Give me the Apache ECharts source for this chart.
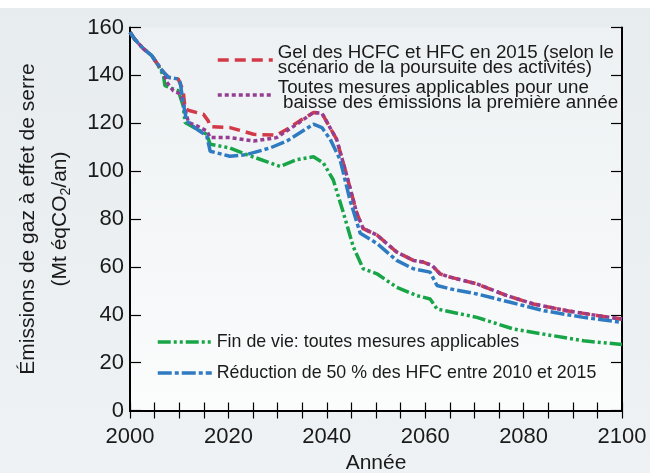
<!DOCTYPE html>
<html>
<head>
<meta charset="utf-8">
<script src="https://cdn.jsdelivr.net/npm/echarts@6/dist/echarts.min.js"></script>
<style>
  html, body { margin: 0; padding: 0; background: #fff; }
  #chart { width: 650px; height: 473px; }
</style>
</head>
<body>
<div id="chart"></div>
<script>
// séries (années / émissions en Mt éqCO2/an)
var gelYears = [2000, 2001, 2002.7, 2004.4, 2005.5, 2006.8, 2007.8, 2009.8, 2010.8, 2011.2, 2012.2, 2014.9, 2015.9, 2016.3, 2020.3, 2025.1, 2029.8, 2031.9, 2034.5, 2037.3, 2039, 2042, 2044.1, 2046.1, 2047.4, 2050.2, 2054.2, 2057.6, 2059.6, 2061.4, 2063, 2065.1, 2070.5, 2076.6, 2082, 2088.8, 2095.2, 2100];
var gelValues = [158, 155, 151.2, 148.3, 145, 141.3, 139.2, 138.5, 133.6, 126, 125.2, 123.8, 121, 118.6, 118.2, 115.4, 115, 117.5, 121, 124.5, 124.2, 113.3, 97.8, 82.4, 76, 73.3, 66.2, 62.7, 62, 60.6, 57.1, 55.7, 52.9, 48, 44.5, 41.7, 39.6, 38.2];

var toutesYears = [2000, 2001, 2002.7, 2004.4, 2005.5, 2006.8, 2007.5, 2008.8, 2010.2, 2010.8, 2011.9, 2013.6, 2015.6, 2016.3, 2020.3, 2025.1, 2029.8, 2033.9, 2037.3, 2039, 2042, 2044.1, 2046.1, 2047.4, 2050.2, 2054.2, 2057.6, 2059.6, 2061.4, 2063, 2065.1, 2070.5, 2076.6, 2082, 2088.8, 2095.2, 2100];
var toutesValues = [158, 155, 151.2, 148.3, 145, 141.3, 137.1, 133.6, 132.2, 128.7, 120.3, 118.9, 116.8, 114, 114, 112.6, 114, 119.6, 124.5, 124.2, 113.3, 97.8, 82.4, 76, 73.3, 66.2, 62.7, 62, 60.6, 57.1, 55.7, 52.9, 48, 44.5, 41.7, 39.6, 38.2];

var finVieYears = [2000, 2001, 2002.7, 2004.4, 2005.5, 2006.8, 2007.1, 2008.8, 2009.8, 2010.8, 2011.2, 2013.6, 2015.6, 2016.3, 2020.3, 2023.7, 2030.5, 2033.9, 2037.3, 2039.3, 2041.3, 2043.4, 2045.4, 2047.4, 2050.2, 2054.2, 2058.3, 2061, 2062.4, 2070.5, 2078, 2084.1, 2092.2, 2100];
var finVieValues = [158, 155, 151.2, 148.3, 145, 139.9, 135.7, 134.3, 133.6, 127.3, 120.3, 117.5, 115.4, 111.2, 109.7, 106.9, 102, 104.8, 106, 103.4, 96.4, 82.4, 68.3, 59.2, 57.1, 51.5, 48, 46.6, 42.4, 38.9, 34, 31.9, 29.1, 27.6];

var reductionYears = [2000, 2001, 2002.7, 2004.4, 2005.5, 2006.8, 2007.8, 2009.8, 2010.2, 2010.8, 2011.5, 2013.6, 2015.6, 2016.3, 2020.3, 2023.7, 2028.5, 2031.9, 2037.3, 2039, 2040.7, 2042.7, 2044.7, 2046.8, 2050.2, 2054.2, 2057.6, 2061, 2062.4, 2065.1, 2070.5, 2077.3, 2084.1, 2092.2, 2100];
var reductionValues = [158, 155, 151.2, 148.3, 145, 141.3, 139.2, 138.5, 137, 128.7, 121, 117.5, 114.7, 108.3, 106.2, 106.9, 109.7, 112.6, 119.6, 118.2, 113.3, 104.8, 88, 74, 69.8, 62.7, 59.2, 57.8, 52.2, 50.8, 48.7, 45.2, 41.7, 38.9, 36.8];

var seriesNames = [
  'Gel des HCFC et HFC en 2015 (selon le\nscénario de la poursuite des activités)',
  'Toutes mesures applicables pour une\n baisse des émissions la première année',
  'Fin de vie: toutes mesures applicables',
  'Réduction de 50 % des HFC entre 2010 et 2015'
];

function zip(xs, ys) {
  return xs.map(function (x, i) { return [x, ys[i]]; });
}

var font = '"Liberation Sans", Arial, Helvetica, sans-serif';
var ink = '#1a1a1a';

var chart = echarts.init(document.getElementById('chart'));

function makeLine(name, data, color, dash, z) {
  return {
    name: name,
    type: 'line',
    data: data,
    showSymbol: false,
    symbol: 'none',
    z: z,
    lineStyle: { color: color, width: 3.5, type: dash, cap: 'butt' },
    itemStyle: { color: color }
  };
}

var option = {
  backgroundColor: {
    type: 'linear', x: 0, y: 0, x2: 0, y2: 1,
    colorStops: [{ offset: 0, color: '#e7ecef' }, { offset: 1, color: '#eef2f4' }]
  },
  textStyle: { fontFamily: font },
  animation: false,
  graphic: [
    { type: 'rect', left: 0, top: 0, shape: { width: 650, height: 8 }, style: { fill: '#ffffff' }, z: -10 }
  ],
  grid: {
    left: 130, right: 28, top: 27.5, bottom: 62.5,
    outerBoundsMode: 'none',
    containLabel: false,
    show: true,
    borderWidth: 0,
    backgroundColor: {
      type: 'linear', x: 0, y: 0, x2: 0, y2: 1,
      colorStops: [{ offset: 0, color: '#edf1f3' }, { offset: 1, color: '#fbfcfc' }]
    }
  },
  legend: [
    {
      data: [seriesNames[0], seriesNames[1]],
      orient: 'vertical',
      left: 216, top: 43,
      padding: 0,
      itemWidth: 55, itemHeight: 14, itemGap: 1,
      itemStyle: { opacity: 0 },
      lineStyle: { width: 3.5 },
      textStyle: { fontSize: 18.8, lineHeight: 15, color: ink, fontFamily: font },
      selectedMode: false
    },
    {
      data: [seriesNames[2], seriesNames[3]],
      orient: 'vertical',
      left: 156, top: 333,
      padding: 0,
      itemWidth: 54, itemHeight: 14, itemGap: 13,
      itemStyle: { opacity: 0 },
      lineStyle: { width: 3.5 },
      textStyle: { fontSize: 17.8, lineHeight: 17, color: ink, fontFamily: font },
      selectedMode: false
    }
  ],
  xAxis: [
    {
      type: 'value', min: 2000, max: 2100, interval: 5,
      name: 'Année', nameLocation: 'middle', nameGap: 41,
      nameTextStyle: { fontSize: 21, color: ink },
      axisLine: { lineStyle: { color: '#000', width: 2 } },
      axisTick: { inside: true, length: 8, lineStyle: { color: '#000', width: 1.2 } },
      axisLabel: {
        fontSize: 22, color: ink, margin: 15,
        formatter: function (v) { return v % 20 === 0 ? String(v) : ''; }
      },
      splitLine: { show: false }
    },
    {
      type: 'value', min: 2000, max: 2100, interval: 5, position: 'top',
      axisLine: { lineStyle: { color: '#000', width: 2 } },
      axisTick: { inside: true, length: 8, lineStyle: { color: '#000', width: 1.2 } },
      axisLabel: { show: false },
      splitLine: { show: false }
    }
  ],
  yAxis: [
    {
      type: 'value', min: 0, max: 160, interval: 20,
      name: '{a|Émissions de gaz à effet de serre}\n{a|(Mt éqCO}{s|2}{a|/an)}',
      nameLocation: 'middle', nameRotate: 90, nameGap: 47,
      nameTextStyle: {
        fontSize: 21, color: ink, lineHeight: 32,
        rich: {
          a: { fontSize: 21, color: ink, lineHeight: 32, fontFamily: font },
          s: { fontSize: 14, color: ink, lineHeight: 32, padding: [11, 0, 0, 0], fontFamily: font }
        }
      },
      axisLine: { lineStyle: { color: '#000', width: 2 } },
      axisTick: { inside: true, length: 11, lineStyle: { color: '#000', width: 1.2 } },
      axisLabel: { fontSize: 22, color: ink, margin: 6 },
      splitLine: { show: false }
    },
    {
      type: 'value', min: 0, max: 160, interval: 20, position: 'right',
      axisLine: { show: true, lineStyle: { color: '#000', width: 2 } },
      axisTick: { show: true, inside: true, length: 11, lineStyle: { color: '#000', width: 1.2 } },
      axisLabel: { show: false },
      splitLine: { show: false }
    }
  ],
  series: [
    makeLine(seriesNames[2], zip(finVieYears, finVieValues), '#17a548', [13, 3, 3, 3, 3, 3], 2),
    makeLine(seriesNames[0], zip(gelYears, gelValues), '#d33a47', [11, 6], 3),
    makeLine(seriesNames[1], zip(toutesYears, toutesValues), '#953d90', [4, 3], 4),
    makeLine(seriesNames[3], zip(reductionYears, reductionValues), '#2f7bc1', [14, 3, 4, 3], 5)
  ]
};

chart.setOption(option);
</script>
</body>
</html>
